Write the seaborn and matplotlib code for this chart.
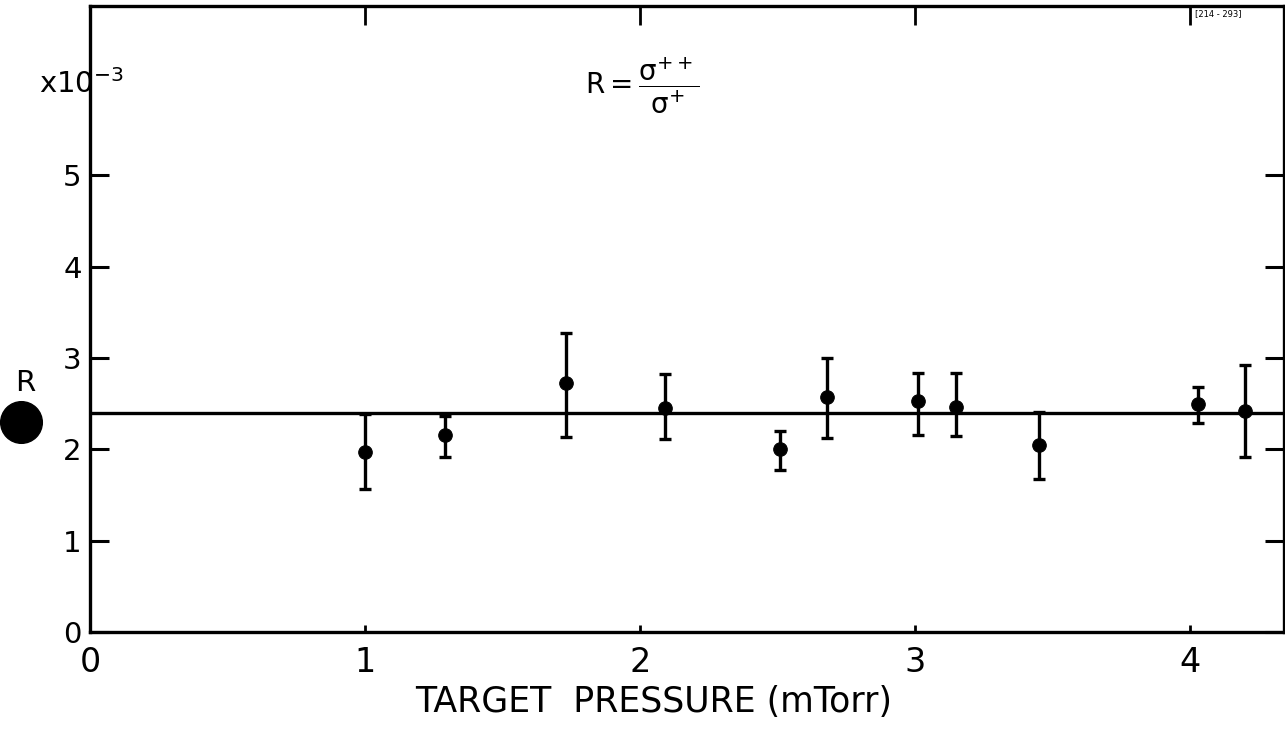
import pandas as pd
import matplotlib
matplotlib.use("Agg")
import matplotlib.pyplot as plt
import seaborn as sns

# values (R in units of 1e-3)
pressure = [1.00, 1.29, 1.73, 2.09, 2.51, 2.68, 3.01, 3.15, 3.45, 4.03, 4.20]
ratio    = [1.97, 2.16, 2.72, 2.45, 2.00, 2.57, 2.53, 2.46, 2.05, 2.50, 2.42]
err_hi   = [2.39, 2.36, 3.27, 2.82, 2.20, 3.00, 2.83, 2.83, 2.41, 2.68, 2.92]
err_lo   = [1.56, 1.91, 2.13, 2.11, 1.77, 2.12, 2.16, 2.14, 1.68, 2.29, 1.91]
mean_R = 2.40
xticks = [0, 1, 2, 3, 4]
yticks = [0, 1, 2, 3, 4, 5]

df = pd.DataFrame({"p": pressure, "R": ratio, "hi": err_hi, "lo": err_lo})

sns.set_style("white")
plt.rcParams['font.family'] = ['DejaVu Sans']
plt.rcParams['text.color'] = 'black'
plt.rcParams['axes.labelcolor'] = 'black'
plt.rcParams['xtick.color'] = 'black'
plt.rcParams['ytick.color'] = 'black'
fig = plt.figure(figsize=(12.85, 7.32), dpi=100)
ax = fig.add_axes([0.070, 0.1366, 0.929, 0.855])

ax.axhline(mean_R, color='black', lw=2.4, zorder=1)
ax.errorbar(df["p"], df["R"], yerr=[df["R"] - df["lo"], df["hi"] - df["R"]],
            fmt=' ', ecolor='black', elinewidth=2.4, capsize=4, capthick=2.4, zorder=2)
sns.scatterplot(data=df, x="p", y="R", ax=ax, color='black', s=95, edgecolor='black', zorder=3)

ax.set_xlim(0, 4.34)
ax.set_ylim(0, 6.85)
ax.set_xticks(xticks)
ax.set_yticks(yticks)
ax.set_xticklabels([str(t) for t in xticks], fontsize=24)
ax.set_yticklabels([str(t) for t in yticks], fontsize=21)
ax.tick_params(axis='y', direction='in', length=14, width=2.2, left=True, right=True, pad=6)
ax.tick_params(axis='x', direction='in', length=14, width=2.0, top=True, bottom=True, pad=10)
for t in ax.xaxis.get_major_ticks():
    t.tick1line.set_markersize(5)
for s in ax.spines.values():
    s.set_linewidth(2.4)
    s.set_color('black')
ax.set_xlabel("TARGET  PRESSURE (mTorr)", fontsize=25, labelpad=8)
ax.xaxis.set_label_coords(0.472, -0.085)
ax.set_ylabel("")

fig.text(0.012, 0.477, "R", fontsize=21, va='center', ha='left')
fig.text(0.030, 0.885, r"x10$^{-3}$", fontsize=21, va='center', ha='left')
fig.text(0.500, 0.883,
         r"$\mathrm{R} = \dfrac{\mathrm{\sigma}^{++}}{\mathrm{\sigma}^{+}}$",
         fontsize=20, va='center', ha='center')
fig.text(0.930, 0.988, "[214 - 293]", fontsize=6, va='top', ha='left')
# blot on the scan at the left edge
ax.plot([0.016], [0.423], marker='o', markersize=30, color='black',
        transform=fig.transFigure, clip_on=False)

fig.savefig("out.png", dpi=100)
